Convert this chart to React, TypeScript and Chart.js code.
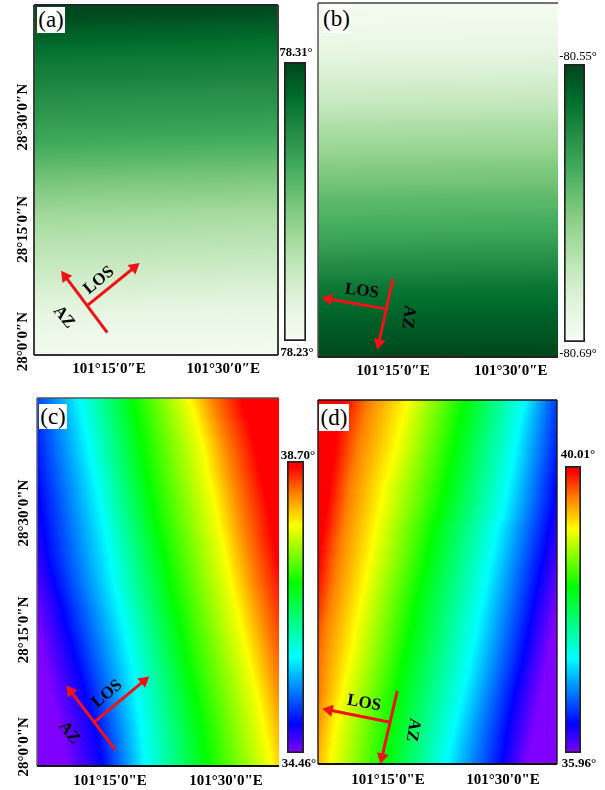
import React, { useEffect, useRef } from "react";
import { Chart, registerables } from "chart.js";

Chart.register(...registerables);

const FONT = "'Liberation Serif', serif";

// ---------- colour maps: fraction of the colour bar -> rgb
const greenFractions = [0, 0.125, 0.25, 0.375, 0.5, 0.625, 0.75, 0.875, 1];
const greenColors = ["#f7fcf5", "#e5f5e0", "#c7e9c0", "#a1d99b", "#74c476", "#41ab5d", "#238b45", "#006d2c", "#00441b"];
const rainbowFractions = [0, 0.1, 0.33, 0.58, 0.78, 0.89, 0.98, 1];
const rainbowColors = ["#8000ff", "#0000ff", "#00ffff", "#00ff00", "#ffff00", "#ff8000", "#ff0000", "#ff0000"];

// ---------- shared row latitudes
const latRowsFine = [
  28.74, 28.72, 28.70, 28.68, 28.66, 28.64, 28.62, 28.60, 28.58, 28.56,
  28.54, 28.52, 28.50, 28.48, 28.46, 28.44, 28.42, 28.40, 28.38, 28.36,
  28.34, 28.32, 28.30, 28.28, 28.26, 28.24, 28.22, 28.20, 28.18, 28.16,
  28.14, 28.12, 28.10, 28.08, 28.06, 28.04, 28.02, 28.00, 27.98, 27.96,
];
const latRowsCoarse = [
  28.74, 28.71, 28.68, 28.65, 28.62, 28.59, 28.56, 28.53, 28.50,
  28.47, 28.44, 28.41, 28.38, 28.35, 28.32, 28.29, 28.26, 28.23,
  28.20, 28.17, 28.14, 28.11, 28.08, 28.05, 28.02, 27.99, 27.96,
];

// ---------- panel (a): angle by row
const aRowValues = [
  78.309, 78.307, 78.304, 78.302, 78.299, 78.297, 78.295, 78.294, 78.292, 78.290,
  78.288, 78.287, 78.285, 78.2832, 78.2816, 78.2792, 78.2768, 78.274, 78.2712, 78.2684,
  78.266, 78.2636, 78.2612, 78.2588, 78.257, 78.255, 78.2535, 78.252, 78.250, 78.248,
  78.246, 78.244, 78.242, 78.240, 78.238, 78.2365, 78.235, 78.2336, 78.2325, 78.2316,
];

// ---------- panel (b): angle by row
const bRowValues = [
  -80.686, -80.684, -80.682, -80.680, -80.677, -80.674, -80.670, -80.668, -80.663, -80.659,
  -80.656, -80.652, -80.648, -80.643, -80.640, -80.636, -80.633, -80.628, -80.624, -80.621,
  -80.617, -80.612, -80.610, -80.606, -80.603, -80.600, -80.596, -80.591, -80.586, -80.582,
  -80.577, -80.572, -80.569, -80.566, -80.563, -80.560, -80.558, -80.555, -80.552, -80.550,
];

// ---------- panels (c), (d): angle levels, and the longitude each row reaches that level
const cLevels = [34.46, 34.884, 35.859, 36.919, 37.767, 38.234, 38.615];
const dLevels = [35.96, 36.365, 37.297, 38.309, 39.119, 39.565, 39.929];

const cLevelLons = [
  [100.984, 101.063, 101.185, 101.300, 101.422, 101.473, 101.534],
  [100.991, 101.069, 101.191, 101.305, 101.432, 101.481, 101.542],
  [100.999, 101.075, 101.198, 101.311, 101.440, 101.490, 101.552],
  [101.005, 101.079, 101.203, 101.317, 101.449, 101.499, 101.560],
  [101.011, 101.083, 101.208, 101.322, 101.455, 101.507, 101.567],
  [101.017, 101.088, 101.215, 101.327, 101.460, 101.514, 101.572],
  [101.024, 101.092, 101.221, 101.333, 101.467, 101.521, 101.579],
  [101.030, 101.098, 101.226, 101.339, 101.474, 101.527, 101.586],
  [101.037, 101.102, 101.232, 101.345, 101.480, 101.534, 101.592],
  [101.043, 101.106, 101.238, 101.352, 101.485, 101.539, 101.597],
  [101.050, 101.111, 101.243, 101.359, 101.493, 101.545, 101.602],
  [101.056, 101.115, 101.249, 101.366, 101.498, 101.552, 101.608],
  [101.063, 101.122, 101.254, 101.372, 101.504, 101.558, 101.615],
  [101.070, 101.130, 101.259, 101.379, 101.511, 101.564, 101.622],
  [101.078, 101.139, 101.266, 101.385, 101.518, 101.572, 101.629],
  [101.085, 101.148, 101.273, 101.392, 101.525, 101.579, 101.636],
  [101.091, 101.155, 101.280, 101.399, 101.531, 101.586, 101.643],
  [101.098, 101.164, 101.287, 101.406, 101.539, 101.593, 101.651],
  [101.104, 101.172, 101.293, 101.411, 101.546, 101.600, 101.658],
  [101.111, 101.181, 101.299, 101.419, 101.553, 101.606, 101.665],
  [101.118, 101.190, 101.304, 101.426, 101.560, 101.613, 101.672],
  [101.124, 101.198, 101.308, 101.433, 101.567, 101.620, 101.679],
  [101.132, 101.207, 101.312, 101.439, 101.574, 101.627, 101.686],
  [101.139, 101.215, 101.317, 101.446, 101.580, 101.634, 101.694],
  [101.145, 101.223, 101.320, 101.451, 101.586, 101.640, 101.699],
  [101.151, 101.228, 101.323, 101.455, 101.592, 101.645, 101.704],
  [101.157, 101.234, 101.326, 101.460, 101.598, 101.651, 101.709],
];
const dLevelLons = [
  [101.709, 101.635, 101.545, 101.415, 101.290, 101.207, 101.153],
  [101.704, 101.633, 101.538, 101.408, 101.282, 101.199, 101.146],
  [101.699, 101.631, 101.532, 101.401, 101.275, 101.192, 101.140],
  [101.694, 101.628, 101.527, 101.395, 101.268, 101.185, 101.136],
  [101.689, 101.624, 101.522, 101.389, 101.259, 101.179, 101.132],
  [101.684, 101.619, 101.516, 101.383, 101.251, 101.173, 101.128],
  [101.679, 101.615, 101.510, 101.375, 101.241, 101.167, 101.124],
  [101.674, 101.612, 101.504, 101.369, 101.236, 101.163, 101.121],
  [101.668, 101.606, 101.497, 101.360, 101.230, 101.158, 101.115],
  [101.660, 101.600, 101.487, 101.349, 101.223, 101.153, 101.111],
  [101.651, 101.594, 101.481, 101.343, 101.218, 101.147, 101.105],
  [101.644, 101.588, 101.475, 101.336, 101.212, 101.143, 101.101],
  [101.637, 101.581, 101.468, 101.329, 101.205, 101.138, 101.097],
  [101.630, 101.576, 101.462, 101.321, 101.199, 101.133, 101.092],
  [101.622, 101.570, 101.456, 101.313, 101.193, 101.127, 101.086],
  [101.616, 101.564, 101.450, 101.307, 101.187, 101.122, 101.081],
  [101.610, 101.558, 101.444, 101.302, 101.181, 101.115, 101.074],
  [101.604, 101.552, 101.438, 101.295, 101.176, 101.111, 101.068],
  [101.599, 101.546, 101.432, 101.289, 101.170, 101.107, 101.063],
  [101.594, 101.540, 101.425, 101.282, 101.164, 101.104, 101.057],
  [101.588, 101.532, 101.419, 101.276, 101.157, 101.102, 101.051],
  [101.583, 101.525, 101.411, 101.269, 101.151, 101.100, 101.045],
  [101.577, 101.519, 101.404, 101.264, 101.143, 101.095, 101.039],
  [101.571, 101.513, 101.396, 101.259, 101.138, 101.091, 101.033],
  [101.565, 101.507, 101.389, 101.254, 101.133, 101.086, 101.027],
  [101.558, 101.503, 101.382, 101.250, 101.129, 101.081, 101.022],
  [101.551, 101.498, 101.376, 101.246, 101.125, 101.075, 101.017],
];

// ---------- axis ticks
const lonTicks = [101.25, 101.5];
const latTicks = [28.0, 28.25, 28.5];
const lonLabelsCurly = ["101°15′0″E", "101°30′0″E"];
const latLabelsCurly = ["28°0′0″N", "28°15′0″N", "28°30′0″N"];
const lonLabelsStraight = ["101°15'0\"E", "101°30'0\"E"];
const latLabelsStraight = ["28°0'0\"N", "28°15'0\"N", "28°30'0\"N"];

// ---------- arrows: [lon, lat] of junction, LOS tip, AZ start, AZ tip, LOS text, AZ text
const aArrows = [[101.202, 28.08], [101.305, 28.165], [101.246, 28.02], [101.154, 28.145], [101.228, 28.136], [101.151, 28.054]];
const bArrows = [[101.235, 28.076], [101.113, 28.098], [101.25, 28.142], [101.22, 28.001], [101.184, 28.115], [101.282, 28.058]];
const cArrows = [[101.216, 28.053], [101.323, 28.141], [101.261, 27.994], [101.165, 28.119], [101.244, 28.113], [101.162, 28.03]];
const dArrows = [[101.252, 28.051], [101.122, 28.077], [101.27, 28.118], [101.237, 27.975], [101.198, 28.092], [101.304, 28.034]];

function hexToRgb(h: string) {
  return [parseInt(h.slice(1, 3), 16), parseInt(h.slice(3, 5), 16), parseInt(h.slice(5, 7), 16)];
}
function colorAt(f: number, fr: number[], cols: string[]) {
  const t = Math.max(0, Math.min(1, f));
  let i = 0;
  while (i < fr.length - 2 && t > fr[i + 1]) i++;
  const k = (t - fr[i]) / (fr[i + 1] - fr[i]);
  const a = hexToRgb(cols[i]);
  const b = hexToRgb(cols[i + 1]);
  return `rgb(${a.map((v, n) => Math.round(v + (b[n] - v) * k)).join(",")})`;
}

type Panel = {
  name: string;
  box: number[]; // left, top, width, height of the canvas
  plot: number[]; // left, right, top, bottom of the plot
  lon: number[];
  lat: number[];
  vmin: number;
  vmax: number;
  fr: number[];
  cols: string[];
  lats: number[];
  rowValues?: number[];
  levels?: number[];
  levelLons?: number[][];
  slope: number;
  rowPx: number;
  lonLabels: string[];
  latLabels: string[] | null;
  arrows: number[][];
  textAngles: number[];
  frame: { side: string; color: string; width: number }[];
  yPad: number;
  xPad: number;
};

const panels: Panel[] = [
  {
    name: "a", box: [0, 0, 282, 380], plot: [34, 278, 5, 355], lon: [101.0855, 101.62], lat: [27.97, 28.75],
    vmin: 78.23, vmax: 78.31, fr: greenFractions, cols: greenColors, lats: latRowsFine,
    rowValues: aRowValues, slope: 0.03, rowPx: 10,
    lonLabels: lonLabelsCurly, latLabels: latLabelsCurly, arrows: aArrows, textAngles: [-40, 50],
    frame: [
      { side: "l", color: "#3a3f3a", width: 2 }, { side: "t", color: "#223", width: 2 },
      { side: "r", color: "#3a3f3a", width: 2 }, { side: "b", color: "#333", width: 2 },
    ],
    yPad: -23, xPad: 5,
  },
  {
    name: "b", box: [300, 0, 262, 380], plot: [318, 558, 3, 357], lon: [101.091, 101.6], lat: [27.97, 28.75],
    vmin: -80.69, vmax: -80.55, fr: greenFractions, cols: greenColors, lats: latRowsFine,
    rowValues: bRowValues, slope: 0.015, rowPx: 10,
    lonLabels: lonLabelsCurly, latLabels: null, arrows: bArrows, textAngles: [7, 97],
    frame: [
      { side: "l", color: "#555", width: 1.5 }, { side: "t", color: "#444", width: 1.5 },
      { side: "b", color: "#222", width: 2 },
    ],
    yPad: 0, xPad: 5,
  },
  {
    name: "c", box: [0, 392, 282, 398], plot: [37, 279, 398, 766], lon: [101.0927, 101.614], lat: [27.959, 28.746],
    vmin: 34.46, vmax: 38.7, fr: rainbowFractions, cols: rainbowColors, lats: latRowsCoarse,
    levels: cLevels, levelLons: cLevelLons, slope: 0.22, rowPx: 15,
    lonLabels: lonLabelsStraight, latLabels: latLabelsStraight, arrows: cArrows, textAngles: [-40, 50],
    frame: [
      { side: "l", color: "#666", width: 1.5 }, { side: "t", color: "#555", width: 1.5 },
      { side: "b", color: "#111", width: 2 },
    ],
    yPad: -21, xPad: 6,
  },
  {
    name: "d", box: [300, 392, 262, 398], plot: [318, 557, 400, 764], lon: [101.098, 101.617], lat: [27.96, 28.75],
    vmin: 35.96, vmax: 40.01, fr: rainbowFractions, cols: rainbowColors, lats: latRowsCoarse,
    levels: dLevels, levelLons: dLevelLons, slope: -0.21, rowPx: 15,
    lonLabels: lonLabelsStraight, latLabels: null, arrows: dArrows, textAngles: [10, 100],
    frame: [
      { side: "l", color: "#222", width: 1.5 }, { side: "t", color: "#111", width: 1.5 },
      { side: "r", color: "#222", width: 1.5 }, { side: "b", color: "#111", width: 2 },
    ],
    yPad: 0, xPad: 7,
  },
];

type Bar = {
  box: number[];
  vmin: number;
  vmax: number;
  fr: number[];
  cols: string[];
};
const colorBars: Bar[] = [
  { box: [284, 62, 22, 279], vmin: 78.23, vmax: 78.31, fr: greenFractions, cols: greenColors },
  { box: [564, 64, 21, 278], vmin: -80.69, vmax: -80.55, fr: greenFractions, cols: greenColors },
  { box: [287, 461, 17, 292], vmin: 34.46, vmax: 38.7, fr: rainbowFractions, cols: rainbowColors },
  { box: [565, 466, 16, 287], vmin: 35.96, vmax: 40.01, fr: rainbowFractions, cols: rainbowColors },
];

// text: content, centre x, centre y, size, weight
const barLabels: [string, number, number, number, string][] = [
  ["78.31°", 296, 52, 12.5, "bold"],
  ["78.23°", 297, 352, 12.5, "bold"],
  ["-80.55°", 578, 56, 12.5, "normal"],
  ["-80.69°", 578, 353, 12.5, "normal"],
  ["38.70°", 298, 455, 13, "bold"],
  ["34.46°", 299, 763, 13, "bold"],
  ["40.01°", 578, 454, 13, "bold"],
  ["35.96°", 579, 763, 13, "bold"],
];
// tag: text, left, top, width, height
const tags: [string, number, number, number, number][] = [
  ["(a)", 37, 7, 28, 26],
  ["(b)", 322, 5, 29, 28],
  ["(c)", 39, 404, 28, 25],
  ["(d)", 319, 404, 30, 27],
];

function makePanel(canvas: HTMLCanvasElement, p: Panel) {
  const [, , bw, bh] = p.box;
  const [pl, pr, pt, pb] = p.plot;
  const padLeft = pl - p.box[0];
  const padBottom = p.box[1] + bh - pb;
  const GA = 100.95;
  const GB = 101.75;
  const toColor = (v: number) => colorAt((v - p.vmin) / (p.vmax - p.vmin), p.fr, p.cols);
  const fill = (ctx: any) => {
    const { x: sx, y: sy } = ctx.chart.scales;
    if (ctx.dataIndex === undefined) return "#fff";
    const lat = p.lats[ctx.dataIndex];
    const last = p.lats.length - 1;
    if (p.rowValues) {
      const y0 = sy.getPixelForValue(p.lats[0]);
      const y1 = sy.getPixelForValue(p.lats[last]);
      const xm = sx.getPixelForValue((p.lon[0] + p.lon[1]) / 2);
      if (![y0, y1, xm].every(Number.isFinite)) return "#fff";
      const H = y1 - y0;
      const g = ctx.chart.ctx.createLinearGradient(xm, y0, xm + p.slope * H, y0 + H);
      p.rowValues.forEach((v, i) => g.addColorStop(i / last, toColor(v)));
      return g;
    }
    const x0 = sx.getPixelForValue(GA);
    const x1 = sx.getPixelForValue(GB);
    const yc = sy.getPixelForValue(lat);
    if (![x0, x1, yc].every(Number.isFinite)) return "#fff";
    const L = (x1 - x0) / (1 + p.slope * p.slope);
    const g = ctx.chart.ctx.createLinearGradient(x0, yc, x0 + L, yc - p.slope * L);
    p.levelLons![ctx.dataIndex].forEach((lon, i) => {
      const off = Math.max(0, Math.min(1, (lon - GA) / (GB - GA)));
      g.addColorStop(off, toColor(p.levels![i]));
    });
    return g;
  };
  const [junction, losTip, azStart, azTip, losText, azText] = p.arrows;
  const pt2 = (q: number[]) => ({ x: q[0], y: q[1] });
  const arrow = (from: number[], to: number[]) => ({
    type: "scatter",
    order: 1,
    showLine: true,
    data: [pt2(from), pt2(to)],
    borderColor: "#f01216",
    backgroundColor: "#f01216",
    borderWidth: 3,
    pointRadius: [0, 7],
    pointBorderWidth: 0,
    pointStyle: "triangle",
    pointRotation: (ctx: any) => {
      const { x, y } = ctx.chart.scales;
      const dx = x.getPixelForValue(to[0]) - x.getPixelForValue(from[0]);
      const dy = y.getPixelForValue(to[1]) - y.getPixelForValue(from[1]);
      const a = (Math.atan2(dy, dx) * 180) / Math.PI + 90;
      return Number.isFinite(a) ? a : 0;
    },
  });
  const labelIndex = (ticks: number[], labels: string[], v: number) => {
    const i = ticks.findIndex((t) => Math.abs(t - v) < 1e-6);
    return i >= 0 ? labels[i] : "";
  };
  return new Chart(canvas, {
    type: "bar",
    data: {
      datasets: [
        {
          type: "bar",
          order: 2,
          indexAxis: "y",
          data: p.lats.map((lat) => ({ x: [p.lon[0], p.lon[1]], y: lat })),
          backgroundColor: fill,
          borderWidth: 0,
          barThickness: p.rowPx,
        },
        arrow(junction, losTip),
        arrow(azStart, azTip),
      ] as any,
    },
    options: {
      animation: false,
      responsive: false,
      maintainAspectRatio: false,
      events: [],
      layout: { autoPadding: false, padding: { top: pt - p.box[1], right: p.box[0] + bw - pr, left: 0, bottom: 0 } },
      plugins: { legend: { display: false }, tooltip: { enabled: false } },
      scales: {
        x: {
          type: "linear",
          offset: false,
          min: p.lon[0],
          max: p.lon[1],
          grid: { display: false, drawTicks: false },
          border: { display: false },
          afterBuildTicks: (s: any) => { s.ticks = lonTicks.map((value) => ({ value })); },
          afterFit: (s: any) => { s.height = padBottom; },
          ticks: {
            autoSkip: false, maxRotation: 0, minRotation: 0, padding: p.xPad, color: "#000",
            font: { family: FONT, size: 15, weight: "bold" },
            callback: (v: any) => labelIndex(lonTicks, p.lonLabels, v),
          },
        },
        y: {
          type: "linear",
          offset: false,
          min: p.lat[0],
          max: p.lat[1],
          grid: { display: false, drawTicks: false },
          border: { display: false },
          afterBuildTicks: (s: any) => { s.ticks = p.latLabels ? latTicks.map((value) => ({ value })) : []; },
          afterFit: (s: any) => { s.width = padLeft; },
          ticks: {
            display: !!p.latLabels,
            autoSkip: false, minRotation: 90, maxRotation: 90, crossAlign: "center", padding: p.yPad, color: "#000",
            font: { family: FONT, size: 15, weight: "bold" },
            callback: (v: any) => (p.latLabels ? labelIndex(latTicks, p.latLabels, v) : ""),
          },
        },
      },
    } as any,
    plugins: [
      {
        id: "panelOverlay",
        afterDraw(chart: any) {
          const { ctx, chartArea: a, scales } = chart;
          ctx.save();
          p.frame.forEach(({ side, color, width }) => {
            ctx.strokeStyle = color;
            ctx.lineWidth = width;
            ctx.beginPath();
            if (side === "l") { ctx.moveTo(a.left, a.top); ctx.lineTo(a.left, a.bottom); }
            if (side === "r") { ctx.moveTo(a.right, a.top); ctx.lineTo(a.right, a.bottom); }
            if (side === "t") { ctx.moveTo(a.left, a.top); ctx.lineTo(a.right, a.top); }
            if (side === "b") { ctx.moveTo(a.left, a.bottom); ctx.lineTo(a.right, a.bottom); }
            ctx.stroke();
          });
          ctx.fillStyle = "#000";
          ctx.font = `bold 17px ${FONT}`;
          ctx.textAlign = "center";
          ctx.textBaseline = "middle";
          ([["LOS", losText, p.textAngles[0]], ["AZ", azText, p.textAngles[1]]] as [string, number[], number][]).forEach(
            ([s, q, ang]) => {
              ctx.save();
              ctx.translate(scales.x.getPixelForValue(q[0]), scales.y.getPixelForValue(q[1]));
              ctx.rotate((ang * Math.PI) / 180);
              ctx.fillText(s, 0, 0);
              ctx.restore();
            }
          );
          ctx.restore();
        },
      },
    ],
  });
}

function makeBar(canvas: HTMLCanvasElement, b: Bar) {
  return new Chart(canvas, {
    type: "bar",
    data: {
      labels: [""],
      datasets: [
        {
          data: [[b.vmin, b.vmax]],
          backgroundColor: (ctx: any) => {
            const sy = ctx.chart.scales.y;
            const y0 = sy.getPixelForValue(b.vmin);
            const y1 = sy.getPixelForValue(b.vmax);
            if (!Number.isFinite(y0) || !Number.isFinite(y1)) return "#fff";
            const g = ctx.chart.ctx.createLinearGradient(0, y0, 0, y1);
            b.fr.forEach((f, i) => g.addColorStop(f, b.cols[i]));
            return g;
          },
          borderColor: "#222",
          borderWidth: 2,
          borderSkipped: false,
          barPercentage: 1,
          categoryPercentage: 1,
        },
      ] as any,
    },
    options: {
      animation: false,
      responsive: false,
      maintainAspectRatio: false,
      events: [],
      layout: { autoPadding: false, padding: 2 },
      plugins: { legend: { display: false }, tooltip: { enabled: false } },
      scales: {
        x: { display: false },
        y: { display: false, min: b.vmin, max: b.vmax },
      },
    } as any,
  });
}

export default function App() {
  const panelRefs = useRef<(HTMLCanvasElement | null)[]>([]);
  const barRefs = useRef<(HTMLCanvasElement | null)[]>([]);
  useEffect(() => {
    const charts = [
      ...panels.map((p, i) => makePanel(panelRefs.current[i]!, p)),
      ...colorBars.map((b, i) => makeBar(barRefs.current[i]!, b)),
    ];
    return () => charts.forEach((c) => c.destroy());
  }, []);
  return (
    <div style={{ position: "absolute", left: 0, top: 0, width: 605, height: 790, background: "#fff", overflow: "hidden", fontFamily: FONT, filter: "blur(0.4px)" }}>
      {panels.map((p, i) => (
        <canvas
          key={p.name}
          ref={(el) => { panelRefs.current[i] = el; }}
          width={p.box[2]}
          height={p.box[3]}
          style={{ position: "absolute", left: p.box[0], top: p.box[1], width: p.box[2], height: p.box[3] }}
        />
      ))}
      {colorBars.map((b, i) => (
        <canvas
          key={i}
          ref={(el) => { barRefs.current[i] = el; }}
          width={b.box[2] + 4}
          height={b.box[3] + 4}
          style={{ position: "absolute", left: b.box[0] - 2, top: b.box[1] - 2, width: b.box[2] + 4, height: b.box[3] + 4 }}
        />
      ))}
      {barLabels.map(([s, x, y, size, weight]) => (
        <div key={s} style={{ position: "absolute", left: x, top: y, transform: "translate(-50%,-50%)", fontSize: size, fontWeight: weight as any, color: "#000", whiteSpace: "nowrap" }}>{s}</div>
      ))}
      {tags.map(([s, x, y, w, h]) => (
        <div key={s} style={{ position: "absolute", left: x, top: y, width: w, height: h, background: "#fff", fontSize: 23, lineHeight: `${h}px`, textAlign: "center", color: "#000" }}>{s}</div>
      ))}
    </div>
  );
}
